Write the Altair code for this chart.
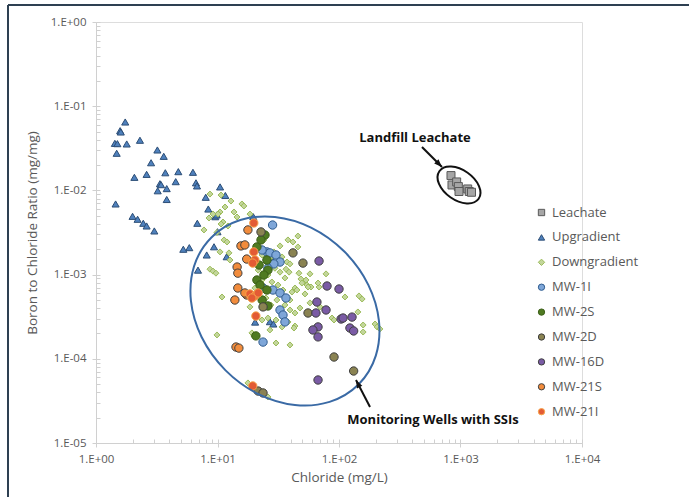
import altair as alt
import pandas as pd

SERIES = ["Leachate", "Upgradient", "Downgradient", "MW-1I", "MW-2S", "MW-2D", "MW-16D", "MW-21S", "MW-21I"]
FILLS = ["#A6A6A6", "#4F81BD", "#C3D69B", "#7EA6D8", "#4F7A21", "#8A8352", "#7A5BA5", "#F28C3C", "#E35B35"]
STROKES = ["#595959", "#2C4D75", "#9BBB59", "#2F5C8F", "#3B5E17", "#3F3F3F", "#3F3F3F", "#3F3F3F", "#F7A44A"]
SHAPES = ["square", "triangle-up", "diamond", "circle", "circle", "circle", "circle", "circle", "circle"]

leachate_cl = [835, 851, 930, 960, 972, 1146, 1181, 1232]
leachate_ratio = [0.0150, 0.0116, 0.0126, 0.0111, 0.0097, 0.0104, 0.0097, 0.0095]

upgradient_cl = [1.74, 1.58, 1.60, 1.43, 1.50, 1.79, 2.30, 1.48, 3.20, 3.61, 2.84, 2.07, 2.61, 3.72, 4.76, 6.28,
                 3.36, 3.43, 4.53, 6.65, 6.78, 3.22, 3.82, 3.82, 10.5, 11.6, 1.45, 2.00, 2.20, 2.45, 2.61, 3.02,
                 6.82, 8.40, 9.59, 9.85, 8.00, 9.36, 5.86, 5.23, 10.0, 6.91, 19.7, 25.5, 28.5, 20.4, 27.0, 28.8,
                 11.9, 8.15]
upgradient_ratio = [0.0649, 0.0512, 0.0494, 0.0362, 0.0359, 0.0356, 0.0394, 0.0276, 0.0302, 0.0254, 0.0213, 0.0143,
                    0.0155, 0.0162, 0.0167, 0.0164, 0.0120, 0.0117, 0.0127, 0.0123, 0.0113, 0.0099, 0.0105, 0.0078,
                    0.0110, 0.0087, 0.0069, 0.00492, 0.00454, 0.00407, 0.00378, 0.00330, 0.00407, 0.00601, 0.00487,
                    0.00511, 0.00828, 0.00214, 0.00209, 0.00200, 0.00323, 0.00113, 0.00487, 0.00185, 0.00145,
                    0.000273, 0.000276, 0.000259, 0.00163, 0.00171]

downgradient_cl = [8.67, 10.69, 12.91, 15.89, 16.49, 18.5, 11.53, 10.49, 10.10, 8.51, 11.10, 10.69, 9.18, 11.32,
                   11.98, 10.49, 12.43, 8.67, 9.18, 9.71, 12.67, 13.67, 12.20, 14.47, 7.74, 10.89, 9.90, 9.90,
                   21.08, 23.26, 25.07, 27.0, 29.7, 32.7, 26.0, 28.04, 31.5, 35.9, 34.6, 41.0, 25.07, 27.5, 30.8,
                   35.9, 39.5, 26.0, 30.3, 34.0, 38.0, 43.4, 23.26, 27.0, 21.6, 23.26, 20.3, 29.1, 32.7, 24.1,
                   45.9, 38.0, 41.8, 45.9, 31.5, 34.0, 37.3, 39.5, 36.6, 38.8, 57.7, 78.2, 48.6, 49.5, 54.5, 58.8,
                   43.4, 45.1, 68.5, 52.5, 112, 146, 155, 57.7, 69.8, 39.5, 47.7, 43.4, 76.7, 87.6, 91.0, 143,
                   158, 158, 198, 206, 217, 30.3, 39.5, 42.6, 46.8, 53.5, 55.6, 67.2, 18.5, 19.2, 19.9, 17.8, 26.0]
downgradient_ratio = [0.00905, 0.00881, 0.00748, 0.00690, 0.00653, 0.00524, 0.00635, 0.00554, 0.00524, 0.00470,
                      0.00421, 0.00399, 0.00524, 0.00258, 0.00244, 0.00186, 0.00181, 0.00116, 0.00110, 0.00104,
                      0.00149, 0.00554, 0.00378, 0.00483, 0.00339, 0.000542, 0.000192, 0.00317,
                      0.00196, 0.00171, 0.00141, 0.00157, 0.00119, 0.00107, 0.000989, 0.000817, 0.000752, 0.000912,
                      0.000656, 0.000621, 0.000527, 0.000436, 0.000499, 0.000436, 0.000380, 0.000305, 0.000289,
                      0.000239, 0.000274, 0.000245, 0.000289, 0.000220, 0.00113, 0.000863, 0.000693, 0.00186,
                      0.00219, 0.00258, 0.00287, 0.00258, 0.00244, 0.00213, 0.00166, 0.00162, 0.00141, 0.00134,
                      0.00116, 0.00107, 0.00102, 0.00102, 0.000887, 0.000794, 0.000752, 0.000712, 0.000693,
                      0.000656, 0.000712, 0.000589, 0.000542, 0.000558, 0.000513, 0.000461, 0.000413, 0.000499,
                      0.000401, 0.000350, 0.000380, 0.000305, 0.000289, 0.000360, 0.000252, 0.000208, 0.000259,
                      0.000239, 0.000226, 0.000154, 0.000146, 0.000232, 0.00104, 0.000863, 0.000712, 0.000794,
                      0.000413, 0.000203, 0.000187, 0.0000517, 0.0000352]

mw1i_cl = [28.4, 25.5, 27.0, 30.3, 32.7, 29.1, 23.7, 28.6, 32.7, 36.6, 32.7, 34.6, 23.7, 35.9, 23.26, 26.0]
mw1i_ratio = [0.00388, 0.00186, 0.00181, 0.00171, 0.00141, 0.00134, 0.000693, 0.000656, 0.000605, 0.000527,
              0.000380, 0.000331, 0.000158, 0.000274, 0.00196, 0.00119]

mw2s_cl = [24.6, 21.1, 25.5, 22.0, 26.0, 21.1, 22.4, 25.5, 23.3, 26.0, 20.7, 22.8, 24.1]
mw2s_ratio = [0.00295, 0.00213, 0.00149, 0.00130, 0.00113, 0.000863, 0.000752, 0.000656, 0.000499, 0.000424,
              0.000187, 0.00258, 0.000989]

mw2d_cl = [22.8, 41.8, 50.5, 23.7, 55.6, 91.0, 132, 21.6, 23.7]
mw2d_ratio = [0.00321, 0.00181, 0.00137, 0.000413, 0.000350, 0.000105, 0.0000716, 0.0000414, 0.0000393]

mw16d_cl = [68.5, 79.7, 100, 65.8, 78.2, 64.6, 104, 108, 128, 67.2, 61.0, 67.2, 123, 132, 67.2]
mw16d_ratio = [0.00145, 0.000732, 0.000674, 0.000472, 0.000380, 0.000350, 0.000297, 0.000305, 0.000313,
               0.000239, 0.000220, 0.000182, 0.000232, 0.000214, 0.0000560]

mw21s_cl = [17.8, 15.6, 16.8, 17.4, 14.5, 14.7, 14.7, 17.4, 13.9, 14.2, 15.0, 16.8]
mw21s_ratio = [0.00339, 0.00219, 0.00225, 0.00153, 0.00123, 0.00104, 0.000693, 0.000573, 0.000499, 0.000138,
               0.000134, 0.000605]

mw21i_cl = [19.9, 19.9, 20.3, 19.5, 18.5, 20.3, 21.6, 20.7, 19.5, 19.2]
mw21i_ratio = [0.00410, 0.00186, 0.00149, 0.00137, 0.000589, 0.000558, 0.000605, 0.000322, 0.0000476, 0.000527]

# annotation anchors (data coordinates)
ssi_ellipse = {"chloride": [35.9], "ratio": [0.000370]}
leach_ellipse = {"chloride": [972], "ratio": [0.01159]}
labels = {"chloride": [422, 594], "ratio": [0.0419, 0.0000187],
          "text": ["Landfill Leachate", "Monitoring Wells with SSIs"]}
arrow_leach = {"chloride": [482], "ratio": [0.03276], "chloride2": [704], "ratio2": [0.01897]}
arrow_ssi = {"chloride": [180], "ratio": [0.0000268], "chloride2": [138], "ratio2": [0.0000560]}

frames = []
for name, cl, rt in [("Leachate", leachate_cl, leachate_ratio), ("Upgradient", upgradient_cl, upgradient_ratio),
                     ("Downgradient", downgradient_cl, downgradient_ratio), ("MW-1I", mw1i_cl, mw1i_ratio),
                     ("MW-2S", mw2s_cl, mw2s_ratio), ("MW-2D", mw2d_cl, mw2d_ratio),
                     ("MW-16D", mw16d_cl, mw16d_ratio), ("MW-21S", mw21s_cl, mw21s_ratio),
                     ("MW-21I", mw21i_cl, mw21i_ratio)]:
    frames.append(pd.DataFrame({"series": name, "chloride": cl, "ratio": rt}))
df = pd.concat(frames, ignore_index=True)

FONT = "Open Sans"
GREY = "#595959"
AX = "#D0D0D0"
W, H = 486, 421

xs = alt.Scale(type="log", domain=[1, 10000], nice=False)
ys = alt.Scale(type="log", domain=[0.00001, 1], nice=False)

label_expr = ("'1.E' + (round(log(datum.value)/LN10) < 0 ? '-' : '+') + '0' + "
              "abs(round(log(datum.value)/LN10))")

major_x = alt.Axis(orient="bottom", values=[1, 10, 100, 1000, 10000], labelExpr=label_expr,
                   title="Chloride (mg/L)", grid=False, domainColor=AX, tickColor=AX, tickSize=4,
                   labelColor=GREY, labelFontSize=11.5, labelFont=FONT, titleColor=GREY, titleFontSize=13.5,
                   titleFontWeight="normal", titleFont=FONT, labelPadding=6, titlePadding=6, labelFlush=False)
major_y = alt.Axis(orient="left", values=[0.00001, 0.0001, 0.001, 0.01, 0.1, 1], labelExpr=label_expr,
                   title="Boron to Chloride Ratio (mg/mg)", grid=False, domainColor=AX, tickColor=AX,
                   tickSize=4, labelColor=GREY, labelFontSize=11.5, labelFont=FONT, titleColor=GREY,
                   titleFontSize=13.5, titleFontWeight="normal", titleFont=FONT, labelPadding=6,
                   titlePadding=11, labelFlush=False)

# minor ticks: an opposite-side axis moved onto the main axis line, so its ticks point inwards
minor_x_vals = [m * 10 ** e for e in range(0, 4) for m in range(1, 10)] + [10000]
minor_y_vals = [m * 10.0 ** e for e in range(-5, 0) for m in range(1, 10)] + [1]
minor_x = alt.Axis(orient="top", values=minor_x_vals, labels=False, domain=False, grid=False,
                   tickSize=4, tickColor=AX, offset=-H, title=None)
minor_y = alt.Axis(orient="right", values=minor_y_vals, labels=False, domain=False, grid=False,
                   tickSize=4, tickColor=AX, offset=-W, title=None)

leg = alt.Legend(title=None, orient="none", legendX=439, legendY=184, labelFontSize=13, labelColor=GREY,
                 labelFont=FONT, symbolSize=40, rowPadding=10.9, symbolStrokeWidth=1, labelOffset=4, padding=0)

minor_layer = alt.Chart(pd.DataFrame(ssi_ellipse)).mark_point(opacity=0).encode(
    x=alt.X("chloride:Q", scale=xs, axis=minor_x),
    y=alt.Y("ratio:Q", scale=ys, axis=minor_y),
)


def series_layer(names, size, with_axes=False):
    return alt.Chart(df).transform_filter(
        alt.FieldOneOfPredicate(field="series", oneOf=names)
    ).mark_point(filled=True, size=size, opacity=1, strokeWidth=1).encode(
        x=alt.X("chloride:Q", scale=xs, axis=major_x if with_axes else None),
        y=alt.Y("ratio:Q", scale=ys, axis=major_y if with_axes else None),
        fill=alt.Fill("series:N", scale=alt.Scale(domain=SERIES, range=FILLS), legend=leg),
        stroke=alt.Stroke("series:N", scale=alt.Scale(domain=SERIES, range=STROKES), legend=leg),
        shape=alt.Shape("series:N", scale=alt.Scale(domain=SERIES, range=SHAPES), legend=leg),
    )


def ellipse_path(ratio):
    k = 0.5523
    r = ratio
    return (f"M 1 0 C 1 {k*r:.4f} {k} {r:.4f} 0 {r:.4f} C {-k} {r:.4f} -1 {k*r:.4f} -1 0 "
            f"C -1 {-k*r:.4f} {-k} {-r:.4f} 0 {-r:.4f} C {k} {-r:.4f} 1 {-k*r:.4f} 1 0 Z")


def pos():
    return dict(x=alt.X("chloride:Q", scale=xs, axis=None), y=alt.Y("ratio:Q", scale=ys, axis=None))


ell_blue = alt.Chart(pd.DataFrame(ssi_ellipse)).mark_point(
    shape=ellipse_path(84 / 104), size=208 ** 2, angle=45, filled=False, opacity=1,
    stroke="#3A6AA5", strokeWidth=2).encode(**pos())
ell_black = alt.Chart(pd.DataFrame(leach_ellipse)).mark_point(
    shape=ellipse_path(15 / 24), size=48 ** 2, angle=35, filled=False, opacity=1,
    stroke="#111111", strokeWidth=2).encode(**pos())

ARROW = "M 0 0 L 0.75 2 L -0.75 2 Z"


def arrow(d, ang):
    d_ = pd.DataFrame(d)
    line = alt.Chart(d_).mark_rule(color="#111111", strokeWidth=2).encode(
        x=alt.X("chloride:Q", scale=xs, axis=None), y=alt.Y("ratio:Q", scale=ys, axis=None),
        x2="chloride2:Q", y2="ratio2:Q")
    head = alt.Chart(d_).mark_point(shape=ARROW, size=64, angle=ang, filled=True, opacity=1,
                                    fill="#111111", strokeWidth=0).encode(
        x=alt.X("chloride2:Q", scale=xs, axis=None), y=alt.Y("ratio2:Q", scale=ys, axis=None))
    return line + head


texts = alt.Chart(pd.DataFrame(labels)).mark_text(
    font=FONT, fontSize=13, fontWeight="bold", color="#111111", baseline="middle", align="center"
).encode(x=alt.X("chloride:Q", scale=xs, axis=None), y=alt.Y("ratio:Q", scale=ys, axis=None), text="text:N")

blank = pd.DataFrame({"a": [0]})
border_top = alt.Chart(blank).mark_rule(color="#2E4052", strokeWidth=2).encode(
    x=alt.value(-88), x2=alt.value(600), y=alt.value(-17))
border_left = alt.Chart(blank).mark_rule(color="#2E4052", strokeWidth=2).encode(
    x=alt.value(-88), y=alt.value(-17), y2=alt.value(480))

chart = alt.layer(
    minor_layer,
    series_layer(["Leachate"], 64, with_axes=True),
    series_layer(["Upgradient"], 50),
    series_layer(["Downgradient"], 36),
    series_layer(["MW-1I", "MW-2S", "MW-2D", "MW-16D", "MW-21S", "MW-21I"], 70),
    ell_blue,
    ell_black,
    arrow(arrow_leach, 135),
    arrow(arrow_ssi, 333),
    texts,
    border_top,
    border_left,
).properties(
    width=W, height=H,
    autosize=alt.AutoSizeParams(type="none"),
    padding={"left": 96, "top": 22, "right": 107, "bottom": 54},
).configure_view(strokeWidth=0).configure(background="white", font=FONT)

chart.save("out.html", embed_options={"renderer": "svg", "actions": False})
